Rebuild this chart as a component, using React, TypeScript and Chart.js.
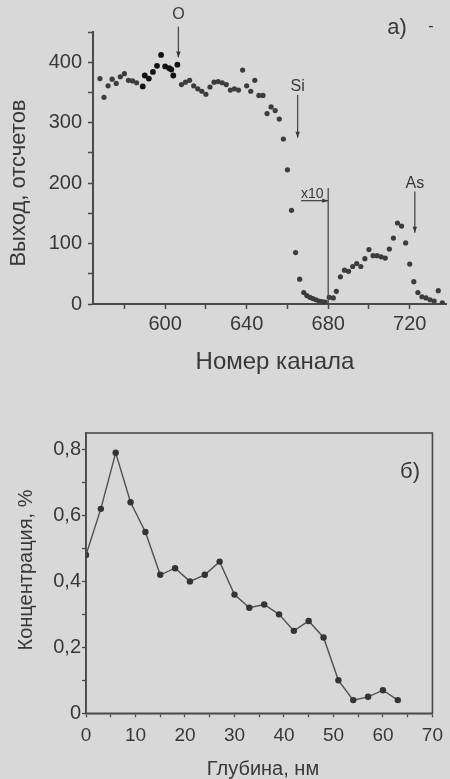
import { useEffect, useRef } from 'react';
import { Chart, registerables } from 'chart.js';

Chart.register(...registerables);

const FONT = '"Liberation Sans", Arial, Helvetica, sans-serif';
const INK = '#383838';
const AXIS = '#4a4a4a';
const PAPER = '#d8d8d8';

// ---------- chart а) : spectrum ----------
const channelsA = [
  568, 570, 572, 574, 576, 578, 580, 582, 584, 586,
  589, 590, 592, 594, 596, 598, 600, 602, 603, 604, 606, 608,
  610, 612, 614, 616, 618, 620, 622, 624, 626, 628, 630, 632, 634, 636, 638, 640,
  642, 644, 646, 648, 650, 652, 654, 656, 658, 660, 662, 664, 666, 668,
  669.5, 671, 672.5, 674, 675.5, 677, 678.5,
  680.5, 682.5,
  684, 686, 688, 690, 692, 694, 696, 698, 700, 702, 704, 706, 708, 710, 712, 714,
  716, 718, 720, 722, 724, 726, 728, 730, 732, 734, 736,
];
const countsA = [
  373, 342, 361, 372, 365, 376, 381, 370, 369, 366,
  360, 378, 373, 384, 394, 412, 393, 390, 388, 378, 396, 363,
  367, 370, 361, 356, 352, 347, 359, 367, 368, 366, 363, 354, 356, 354, 387, 361,
  352, 370, 345, 345, 315, 326, 320, 306, 273, 222, 155, 85, 41, 19,
  14, 11, 9, 7, 5, 4, 3,
  11, 10,
  21, 45, 56, 54, 62, 67, 62, 75, 90, 80, 80, 78, 76, 91, 109, 134,
  129, 101, 66, 37, 19, 12, 10, 7, 5, 22, 2,
];
const tickValuesAX = [580, 600, 620, 640, 660, 680, 700, 720];
const labelledAX = [600, 640, 680, 720];
const tickValuesAY = [0, 50, 100, 150, 200, 250, 300, 350, 400, 450];
const labelledAY = [0, 100, 200, 300, 400];
const peakMarks = [
  { label: 'O', x: 606.5, yText: 479, yFrom: 459, yTo: 408 },
  { label: 'Si', x: 665, yText: 360, yFrom: 346, yTo: 275 },
  { label: 'As', x: 722.5, yText: 200, yFrom: 186, yTo: 118 },
];
const scaleMark = { label: 'x10', x: 680, textX: 672.2, textY: 181, arrowFrom: 666.7, arrowY: 171, lineTop: 192 };

// ---------- chart б) : depth profile ----------
const depthB = [0, 3, 6, 9, 12, 15, 18, 21, 24, 27, 30, 33, 36, 39, 42, 45, 48, 51, 54, 57, 60, 63];
const concB = [0.48, 0.62, 0.79, 0.64, 0.55, 0.42, 0.44, 0.40, 0.42, 0.46, 0.36, 0.32, 0.33, 0.30, 0.25, 0.28, 0.23, 0.10, 0.04, 0.05, 0.07, 0.04];
const tickValuesBX = [0, 5, 10, 15, 20, 25, 30, 35, 40, 45, 50, 55, 60, 65, 70];
const tickValuesBY = [0, 0.1, 0.2, 0.3, 0.4, 0.5, 0.6, 0.7, 0.8];

function drawArrow(ctx: CanvasRenderingContext2D, x1: number, y1: number, x2: number, y2: number) {
  ctx.beginPath();
  ctx.moveTo(x1, y1);
  ctx.lineTo(x2, y2);
  ctx.stroke();
  const a = Math.atan2(y2 - y1, x2 - x1);
  const L = 6, W = 2.2;
  ctx.beginPath();
  ctx.moveTo(x2, y2);
  ctx.lineTo(x2 - L * Math.cos(a) + W * Math.sin(a), y2 - L * Math.sin(a) - W * Math.cos(a));
  ctx.lineTo(x2 - L * Math.cos(a) - W * Math.sin(a), y2 - L * Math.sin(a) + W * Math.cos(a));
  ctx.closePath();
  ctx.fill();
}

function drawText(ctx: CanvasRenderingContext2D, text: string, x: number, y: number, size: number, rot = 0) {
  ctx.save();
  ctx.translate(x, y);
  ctx.rotate(rot);
  ctx.font = `${size}px ${FONT}`;
  ctx.textAlign = 'center';
  ctx.textBaseline = 'middle';
  ctx.fillText(text, 0, 0);
  ctx.restore();
}

const annotA = {
  id: 'annotA',
  afterDraw(chart: any) {
    const { ctx, scales } = chart;
    const x = scales.x, y = scales.y;
    ctx.save();
    ctx.strokeStyle = AXIS;
    ctx.fillStyle = INK;
    ctx.lineWidth = 1.3;
    for (const m of peakMarks) {
      const px = x.getPixelForValue(m.x);
      drawText(ctx, m.label, px, y.getPixelForValue(m.yText), 16);
      drawArrow(ctx, px, y.getPixelForValue(m.yFrom), px, y.getPixelForValue(m.yTo));
    }
    const lx = x.getPixelForValue(scaleMark.x);
    ctx.beginPath();
    ctx.moveTo(lx, y.getPixelForValue(scaleMark.lineTop));
    ctx.lineTo(lx, y.getPixelForValue(0));
    ctx.stroke();
    drawText(ctx, scaleMark.label, x.getPixelForValue(scaleMark.textX), y.getPixelForValue(scaleMark.textY), 14);
    drawArrow(ctx, x.getPixelForValue(scaleMark.arrowFrom), y.getPixelForValue(scaleMark.arrowY), lx, y.getPixelForValue(scaleMark.arrowY));
    // panel label and titles
    drawText(ctx, 'а)', 397, 28, 22);
    drawText(ctx, '-', 431, 27, 16);
    drawText(ctx, 'Номер канала', 275, 362, 24);
    drawText(ctx, 'Выход, отсчетов', 19, 183, 22, -Math.PI / 2);
    ctx.restore();
  },
};

const annotB = {
  id: 'annotB',
  afterDraw(chart: any) {
    const { ctx, chartArea } = chart;
    ctx.save();
    ctx.strokeStyle = AXIS;
    ctx.lineWidth = 1.6;
    ctx.strokeRect(chartArea.left, chartArea.top, chartArea.right - chartArea.left, chartArea.bottom - chartArea.top);
    ctx.fillStyle = INK;
    drawText(ctx, 'б)', 410, 72, 22);
    drawText(ctx, 'Концентрация, %', 26, 170, 20, -Math.PI / 2);
    drawText(ctx, 'Глубина, нм', 263, 369, 20);
    ctx.restore();
  },
};

export default function App() {
  const refA = useRef<HTMLCanvasElement>(null);
  const refB = useRef<HTMLCanvasElement>(null);

  useEffect(() => {
    const chartA = new Chart(refA.current!, {
      type: 'scatter',
      data: {
        datasets: [
          {
            data: channelsA.map((c, i) => ({ x: c, y: countsA[i] })),
            pointRadius: (c: any) => (c.raw && c.raw.x >= 588 && c.raw.x <= 607 ? 2.9 : 2.6),
            pointBackgroundColor: (c: any) => (c.raw && c.raw.x >= 588 && c.raw.x <= 607 ? '#111' : '#3c3c3c'),
            pointBorderWidth: 0,
            showLine: false,
          },
        ],
      },
      options: {
        animation: false,
        responsive: false,
        layout: { padding: { top: 32, left: 0, right: 0, bottom: 0 } },
        plugins: { legend: { display: false }, tooltip: { enabled: false } },
        scales: {
          x: {
            type: 'linear',
            min: 564.6,
            max: 737.8,
            afterBuildTicks: (s: any) => { s.ticks = tickValuesAX.map((v) => ({ value: v })); },
            afterFit: (s: any) => { s.height = 96; },
            grid: { drawOnChartArea: false, drawTicks: true, tickLength: 5, tickColor: AXIS, tickWidth: 1.5 },
            border: { display: true, color: AXIS, width: 2 },
            ticks: {
              color: INK,
              font: { family: FONT, size: 20 },
              padding: 3,
              maxRotation: 0,
              autoSkip: false,
              callback: (v: any) => (labelledAX.includes(Number(v)) ? String(v) : ''),
            },
          },
          y: {
            min: 0,
            max: 450,
            afterBuildTicks: (s: any) => { s.ticks = tickValuesAY.map((v) => ({ value: v })); },
            afterFit: (s: any) => { s.width = 93; },
            grid: { drawOnChartArea: false, drawTicks: true, tickLength: 5, tickColor: AXIS, tickWidth: 1.5 },
            border: { display: true, color: AXIS, width: 2 },
            ticks: {
              color: INK,
              font: { family: FONT, size: 20 },
              padding: 6,
              autoSkip: false,
              callback: (v: any) => (labelledAY.includes(Number(v)) ? String(v) : ''),
            },
          },
        },
      },
      plugins: [annotA],
    } as any);

    const chartB = new Chart(refB.current!, {
      type: 'line',
      data: {
        datasets: [
          {
            data: depthB.map((d, i) => ({ x: d, y: concB[i] })),
            borderColor: '#505050',
            borderWidth: 1.4,
            pointRadius: 3.2,
            pointBackgroundColor: '#333',
            pointBorderWidth: 0,
            tension: 0,
          },
        ],
      },
      options: {
        animation: false,
        responsive: false,
        layout: { padding: { top: 33, left: 0, right: 13, bottom: 0 } },
        plugins: { legend: { display: false }, tooltip: { enabled: false } },
        scales: {
          x: {
            type: 'linear',
            min: 0,
            max: 70,
            afterBuildTicks: (s: any) => { s.ticks = tickValuesBX.map((v) => ({ value: v })); },
            afterFit: (s: any) => { s.height = 65.7; },
            grid: { drawOnChartArea: false, drawTicks: true, tickLength: 4, tickColor: AXIS, tickWidth: 1.3 },
            border: { display: true, color: AXIS, width: 1.6 },
            ticks: {
              color: INK,
              font: { family: FONT, size: 19 },
              padding: 7,
              maxRotation: 0,
              autoSkip: false,
              callback: (v: any) => (Number(v) % 10 === 0 ? String(v) : ''),
            },
          },
          y: {
            min: 0,
            max: 0.85,
            afterBuildTicks: (s: any) => { s.ticks = tickValuesBY.map((v) => ({ value: v })); },
            afterFit: (s: any) => { s.width = 86; },
            grid: { drawOnChartArea: false, drawTicks: true, tickLength: 4, tickColor: AXIS, tickWidth: 1.3 },
            border: { display: true, color: AXIS, width: 1.6 },
            ticks: {
              color: INK,
              font: { family: FONT, size: 20 },
              padding: 1,
              autoSkip: false,
              callback: (v: any) => {
                const n = Math.round(Number(v) * 10);
                if (n % 2 !== 0) return '';
                return n === 0 ? '0' : (n / 10).toFixed(1).replace('.', ',');
              },
            },
          },
        },
      },
      plugins: [annotB],
    } as any);

    return () => {
      chartA.destroy();
      chartB.destroy();
    };
  }, []);

  return (
    <div style={{ position: 'fixed', left: 0, top: 0, width: 450, height: 779, background: PAPER, overflow: 'hidden' }}>
      <canvas ref={refA} width={450} height={400} style={{ position: 'absolute', left: 0, top: 0, width: 450, height: 400 }} />
      <canvas ref={refB} width={450} height={379} style={{ position: 'absolute', left: 0, top: 400, width: 450, height: 379 }} />
    </div>
  );
}
